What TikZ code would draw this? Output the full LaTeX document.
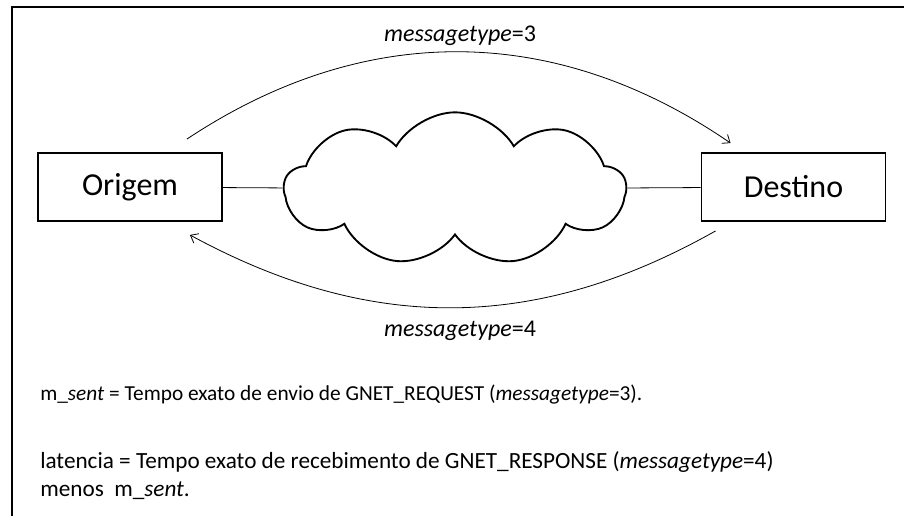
\documentclass[tikz,border=0pt]{standalone}
\usepackage{fontspec}
\setmainfont{Carlito}
\usetikzlibrary{shapes.symbols,arrows.meta}

\tikzset{
  caixa/.style={draw, line width=1.4pt, minimum width=138pt, minimum height=51pt, font=\fontsize{24}{28}\selectfont},
  nuvem/.style={cloud, draw, line width=1.4pt, cloud puffs=9, cloud puff arc=120, cloud ignores aspect, inner sep=0pt},
  seta/.style={line width=0.6pt, -{Straight Barb[length=5pt,width=8pt]}},
  texto/.style={font=\fontsize{18}{21}\selectfont, inner sep=0pt}
}

\begin{document}
\begin{tikzpicture}[x=0.75pt,y=-0.75pt]
    \useasboundingbox (0,0) rectangle (904,516);

    % Frame
    \draw[line width=1.5pt] (12,516) -- (12,7) -- (904,7);

    % Origin and destination
    \node[caixa] (origem) at (130,187) {Origem};
    \node[caixa] (destino) at (793.5,187) {Destino};

    % Network cloud
    \node[nuvem, minimum width=256pt, minimum height=115pt] (rede) at (455,189) {};
    \draw[line width=0.6pt] (origem) -- (rede);
    \draw[line width=0.6pt] (rede) -- (destino);

    % Request
    \coordinate (ida) at ([shift={(-36,-13)}]origem.north east);
    \coordinate (chegada) at ([shift={(30,-9)}]destino.north west);
    \draw[seta] (ida) to[bend left=34] (chegada);
    \node[texto] (tipo3) at (460,36) {\textit{messagetype}=3};

    % Response
    \coordinate (volta) at ([shift={(15,9)}]destino.south west);
    \coordinate (retorno) at ([shift={(-33,13)}]origem.south east);
    \draw[seta] (volta) to[bend left=29] (retorno);
    \node[texto] (tipo4) at (460,331) {\textit{messagetype}=4};

    % Definitions
    \node[texto, anchor=west, font=\fontsize{16}{19}\selectfont] (msent) at (40,395) {m\_\textit{sent} = Tempo exato de envio de GNET\_REQUEST (\textit{messagetype}=3).};
    \node[texto, anchor=west, align=left, font=\fontsize{17.4}{21}\selectfont] (latencia) at (40,476) {latencia = Tempo exato de recebimento de GNET\_RESPONSE (\textit{messagetype}=4)\\menos~ m\_\textit{sent}.};

\end{tikzpicture}
\end{document}
